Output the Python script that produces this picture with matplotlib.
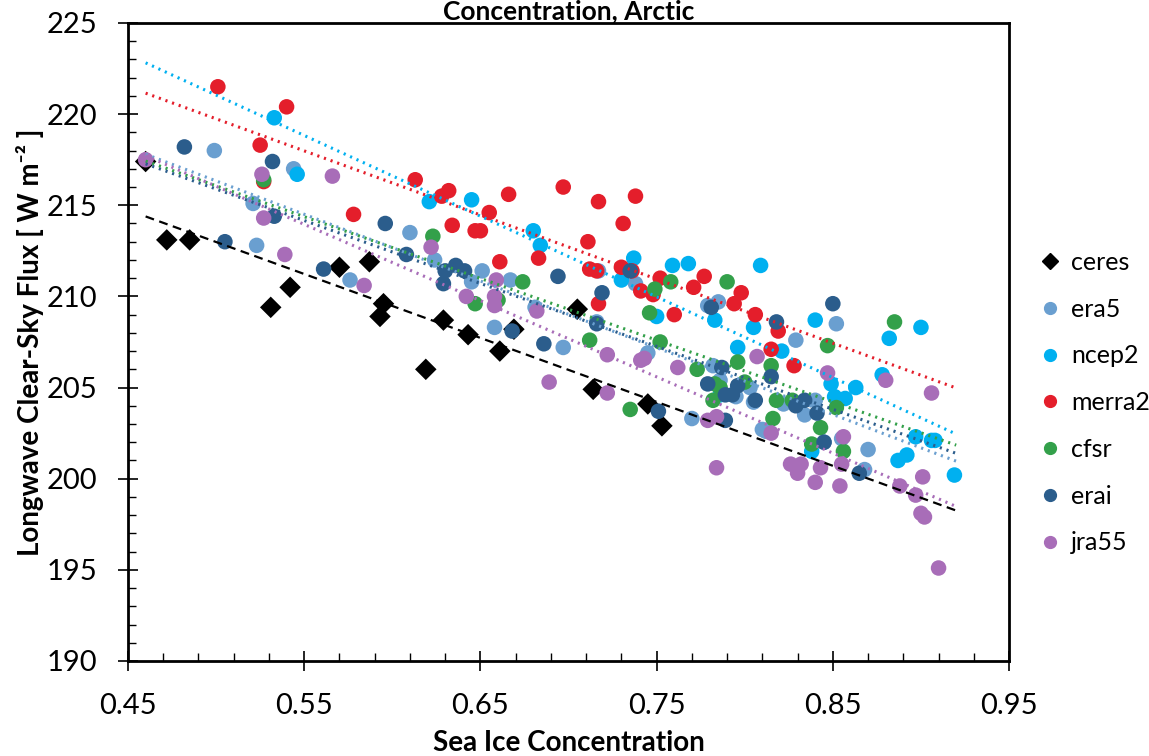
import numpy as np
import matplotlib
matplotlib.use("Agg")
import matplotlib.pyplot as plt
from matplotlib.ticker import FixedLocator, MultipleLocator, FormatStrFormatter

plt.rcParams['font.family'] = ['Lato', 'DejaVu Sans']

# ---- data ----
ceres_x = [0.460, 0.472, 0.485, 0.531, 0.542, 0.570, 0.587, 0.593, 0.595, 0.619,
           0.629, 0.643, 0.661, 0.669, 0.705, 0.714, 0.745, 0.753]
ceres_y = [217.4, 213.1, 213.1, 209.4, 210.5, 211.6, 211.9, 208.9, 209.6, 206.0,
           208.7, 207.9, 207.0, 208.2, 209.3, 204.9, 204.1, 202.9]

era5_x = [0.499, 0.521, 0.523, 0.544, 0.576, 0.610, 0.624, 0.645, 0.651, 0.658,
          0.667, 0.681, 0.697, 0.716, 0.717, 0.738, 0.745, 0.770, 0.779, 0.785,
          0.782, 0.786, 0.795, 0.803, 0.805, 0.810, 0.822, 0.829, 0.834, 0.840,
          0.845, 0.852, 0.855, 0.868, 0.870, 0.812]
era5_y = [218.0, 215.1, 212.8, 217.0, 210.9, 213.5, 212.0, 210.8, 211.4, 208.3,
          210.9, 209.4, 207.2, 208.6, 211.4, 210.7, 206.9, 203.3, 209.5, 209.7,
          206.2, 205.4, 204.5, 205.0, 204.2, 202.7, 204.1, 207.6, 203.5, 204.3,
          202.0, 208.5, 202.2, 200.5, 201.6, 202.6]

ncep2_x = [0.533, 0.546, 0.621, 0.645, 0.680, 0.684, 0.730, 0.737, 0.750, 0.759,
           0.768, 0.783, 0.796, 0.805, 0.809, 0.821, 0.840, 0.849, 0.851, 0.857,
           0.863, 0.878, 0.882, 0.887, 0.892, 0.897, 0.900, 0.906, 0.908, 0.919,
           0.786, 0.838]
ncep2_y = [219.8, 216.7, 215.2, 215.3, 213.6, 212.8, 210.9, 212.1, 208.9, 211.7,
           211.8, 208.7, 207.2, 208.3, 211.7, 207.0, 208.7, 205.2, 204.5, 204.4,
           205.0, 205.7, 207.7, 201.0, 201.3, 202.3, 208.3, 202.1, 202.1, 200.2,
           204.6, 201.5]

merra2_x = [0.501, 0.525, 0.540, 0.527, 0.578, 0.613, 0.628, 0.632, 0.634, 0.647,
            0.650, 0.655, 0.661, 0.666, 0.683, 0.697, 0.711, 0.712, 0.716, 0.717,
            0.717, 0.730, 0.731, 0.736, 0.738, 0.741, 0.748, 0.752, 0.760, 0.771,
            0.777, 0.794, 0.798, 0.806, 0.815, 0.819, 0.828]
merra2_y = [221.5, 218.3, 220.4, 216.3, 214.5, 216.4, 215.5, 215.8, 213.9, 213.6,
            213.6, 214.6, 211.9, 215.6, 212.1, 216.0, 213.0, 211.5, 211.4, 215.2,
            209.6, 211.6, 214.0, 211.4, 215.5, 210.3, 210.1, 211.0, 209.0, 210.5,
            211.1, 209.6, 210.2, 209.0, 207.1, 208.1, 206.2]

cfsr_x = [0.527, 0.623, 0.647, 0.660, 0.674, 0.712, 0.735, 0.746, 0.749, 0.758,
          0.773, 0.782, 0.790, 0.796, 0.786, 0.800, 0.815, 0.816, 0.818, 0.827,
          0.838, 0.843, 0.847, 0.852, 0.856, 0.885, 0.752, 0.783]
cfsr_y = [216.4, 213.3, 209.6, 209.8, 210.8, 207.6, 203.8, 209.1, 210.4, 210.8,
          206.0, 204.3, 210.8, 206.4, 205.0, 205.3, 206.2, 203.3, 204.3, 204.3,
          201.9, 202.8, 207.3, 203.9, 201.5, 208.6, 207.5, 205.2]

erai_x = [0.482, 0.505, 0.532, 0.533, 0.561, 0.596, 0.608, 0.629, 0.630, 0.636,
          0.641, 0.668, 0.686, 0.694, 0.716, 0.719, 0.735, 0.751, 0.779, 0.781,
          0.787, 0.789, 0.793, 0.796, 0.806, 0.815, 0.818, 0.829, 0.834, 0.841,
          0.845, 0.850, 0.865, 0.789]
erai_y = [218.2, 213.0, 217.4, 214.4, 211.5, 214.0, 212.3, 210.7, 211.4, 211.7,
          211.4, 208.1, 207.4, 211.1, 208.5, 210.2, 211.4, 203.7, 205.2, 209.4,
          206.1, 204.6, 204.6, 205.1, 204.3, 205.6, 208.6, 204.0, 204.3, 203.6,
          202.0, 209.6, 200.3, 203.2]

jra55_x = [0.460, 0.526, 0.527, 0.539, 0.566, 0.584, 0.622, 0.642, 0.658, 0.658,
           0.659, 0.682, 0.689, 0.722, 0.722, 0.741, 0.743, 0.762, 0.779, 0.784,
           0.784, 0.807, 0.815, 0.826, 0.830, 0.832, 0.840, 0.843, 0.847, 0.854,
           0.855, 0.856, 0.880, 0.888, 0.897, 0.900, 0.901, 0.902, 0.906, 0.910]
jra55_y = [217.5, 216.7, 214.3, 212.3, 216.6, 210.6, 212.7, 210.0, 210.0, 209.5,
           210.9, 209.2, 205.3, 206.8, 204.7, 206.5, 206.6, 206.1, 203.2, 200.6,
           203.4, 206.7, 202.5, 200.8, 200.3, 200.8, 199.8, 200.6, 205.8, 199.6,
           200.8, 202.3, 205.4, 199.6, 199.1, 198.1, 200.1, 197.9, 204.7, 195.1]

names = ['ceres', 'era5', 'ncep2', 'merra2', 'cfsr', 'erai', 'jra55']
xs = [ceres_x, era5_x, ncep2_x, merra2_x, cfsr_x, erai_x, jra55_x]
ys = [ceres_y, era5_y, ncep2_y, merra2_y, cfsr_y, erai_y, jra55_y]
colors = ['#000000', '#6A9FD0', '#00B0F0', '#E41E2B', '#33A04A', '#2B5D8C', '#A86DB8']

x_ticks = [0.45, 0.55, 0.65, 0.75, 0.85, 0.95]

# trend lines span the same range for every series
trend_x = [0.46, 0.92]

fig = plt.figure(figsize=(11.49, 7.56), dpi=100)
ax = fig.add_axes([0.1114, 0.1257, 0.7668, 0.8439])

for name, x, y, c in zip(names, xs, ys, colors):
    if name == 'ceres':
        ax.scatter(x, y, marker='D', s=120, color=c, edgecolors='none', zorder=3)
    else:
        ax.scatter(x, y, marker='o', s=125, color=c, edgecolors='none', zorder=3)
    # linear trend line
    k, b = np.polyfit(x, y, 1)
    tx = np.array(trend_x)
    if name == 'ceres':
        ax.plot(tx, k * tx + b, color=c, lw=1.6, ls=(0, (4, 2.5)), zorder=4)
    else:
        ax.plot(tx, k * tx + b, color=c, lw=2.2, ls=(0, (0.7, 1.6)), zorder=4)

# legend
handles = []
for name, c in zip(names, colors):
    mk = 'D' if name == 'ceres' else 'o'
    h, = ax.plot([], [], ls='none', marker=mk, color=c, markersize=8.5, label=name)
    handles.append(h)
ax.legend(handles=handles, loc='center left', bbox_to_anchor=(1.005, 0.405),
          frameon=False, fontsize=18, labelspacing=0.95, handletextpad=0.1,
          handlelength=1.5, borderaxespad=0.3)

ax.set_xlim(0.45, 0.95)
ax.set_ylim(190, 225)
ax.xaxis.set_major_locator(FixedLocator(x_ticks))
ax.xaxis.set_minor_locator(FixedLocator(np.arange(0.47, 0.95, 0.02)))
ax.yaxis.set_major_locator(MultipleLocator(5))
ax.yaxis.set_minor_locator(MultipleLocator(1))
ax.xaxis.set_major_formatter(FormatStrFormatter('%.2f'))
ax.tick_params(which='major', direction='inout', length=14, width=1.2, labelsize=21)
ax.tick_params(which='minor', direction='in', length=6, width=1.0)
ax.tick_params(axis='x', which='major', pad=16)
ax.tick_params(axis='y', which='major', pad=15)
for s in ax.spines.values():
    s.set_linewidth(2)
    s.set_color('black')

ax.set_xlabel('Sea Ice Concentration', fontsize=20, fontweight='bold', labelpad=8)
ax.set_ylabel('Longwave Clear-Sky Flux [ W m\u207b\u00b2 ]', fontsize=20,
              fontweight='bold', labelpad=2)
ax.set_title('Concentration, Arctic', fontsize=19, fontweight='bold', pad=1)

fig.savefig('out.png', dpi=100)
